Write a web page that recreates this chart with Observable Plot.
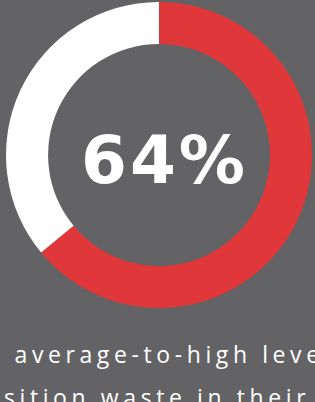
<!DOCTYPE html>
<html>
<head>
<meta charset="utf-8">
<script src="https://cdn.jsdelivr.net/npm/d3@7"></script>
<script src="https://cdn.jsdelivr.net/npm/@observablehq/plot@0.6"></script>
<style>
  html, body { margin: 0; padding: 0; background: #636365; overflow: hidden; }
  #chart svg { display: block; }
</style>
</head>
<body>
<div id="chart"></div>
<script>
// ---- data ----
const categories = ["Average-to-high", "Other"];
const values = [64, 36];
const sliceColors = ["#e0383a", "#ffffff"];
const centerLabel = "64%";
const captionLines = ["o average-to-high leve", "osition waste in their a"];

// ---- style ----
const bg = "#636365";
const innerRatio = 0.725;

const slices = categories.map((c, i) => ({category: c, value: values[i]}));

function donut(index, scales, channels, dimensions, context) {
  const cx = scales.x(0), cy = scales.y(0);
  const outer = scales.x(1) - scales.x(0);
  const inner = outer * innerRatio;
  const color = scales.color || d3.scaleOrdinal(categories, sliceColors);
  const arcs = d3.pie().sort(null).value(d => d.value)(slices);
  const arc = d3.arc().innerRadius(inner).outerRadius(outer);
  const g = d3.create("svg:g").attr("transform", `translate(${cx},${cy})`);
  g.selectAll("path").data(arcs).join("path")
    .attr("d", arc)
    .attr("fill", d => color(d.data.category));
  return g.node();
}

const chart = Plot.plot({
  width: 315,
  height: 402,
  marginLeft: 6,
  marginRight: 3,
  marginTop: 2,
  marginBottom: 94,
  style: {background: bg},
  x: {domain: [-1, 1], axis: null},
  y: {domain: [-1, 1], axis: null},
  color: {domain: categories, range: sliceColors},
  marks: [
    donut,
    Plot.text([centerLabel], {
      text: d => d,
      frameAnchor: "middle",
      dx: 5,
      dy: 6,
      fill: "white",
      fontSize: 66,
      fontWeight: 700,
      fontFamily: "DejaVu Sans",
      className: "center-label"
    }),
    Plot.text([captionLines.join("\n")], {
      text: d => d,
      frameAnchor: "bottom-left",
      textAnchor: "start",
      lineAnchor: "bottom",
      lineHeight: 1.83,
      dx: -21,
      dy: 97,
      fill: "white",
      fontSize: 23,
      fontFamily: "Open Sans",
      className: "caption"
    })
  ]
});
chart.querySelectorAll(".center-label text").forEach(t => t.style.letterSpacing = "3px");
chart.querySelectorAll(".caption text").forEach(t => t.style.letterSpacing = "4.6px");
document.getElementById("chart").append(chart);
</script>
</body>
</html>
